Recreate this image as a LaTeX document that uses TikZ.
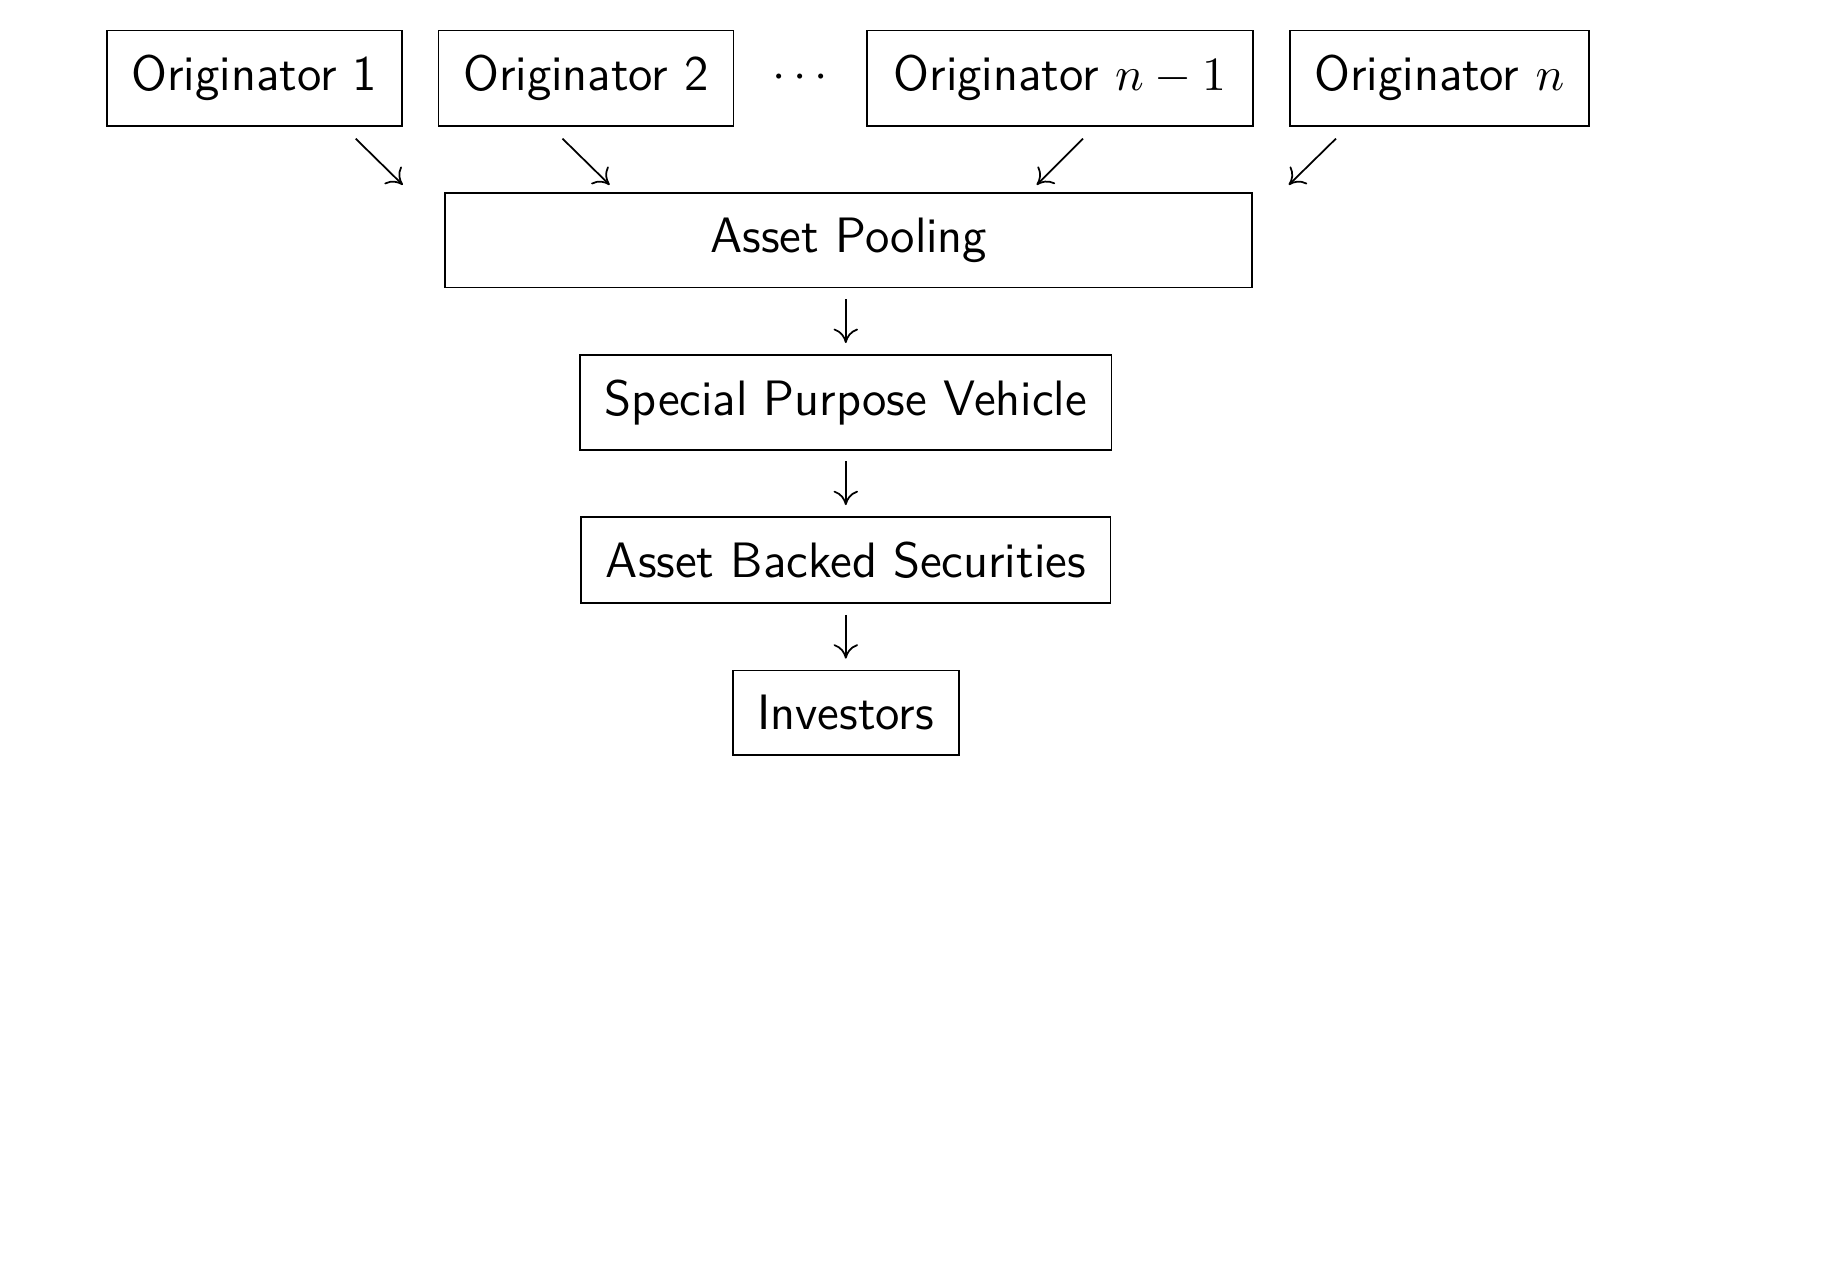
\documentclass[tikz,border=0pt]{standalone}
\usetikzlibrary{arrows.meta,calc,positioning}

\begin{document}
\begin{tikzpicture}[
  node distance = 15pt and 8pt,
  >             = {Computer Modern Rightarrow[length=3.3pt, width=5.6pt]},
  box/.style    = {rectangle, black, draw, text centered, inner xsep=5.65pt, inner ysep=5.7pt, font=\sffamily\fontsize{11.4}{14}\selectfont},
  flow/.style   = {->, black, shorten <=2.5pt, shorten >=2.5pt},
  feed/.style   = {->, black},
  ]
  \useasboundingbox (0,0) rectangle (421.6pt,-293.8pt);
  % originators
  \node[box, anchor=north west] (o1) at (24.3pt,-6.8pt) {Originator 1};
  \node[box, right=of o1] (o2) {Originator 2};
  \node[box, inner xsep=6.2pt, right=30.1pt of o2] (on1) {Originator $n-1$};
  \node[box, right=of on1] (on) {Originator $n$};
  \node[font=\fontsize{11.4}{14}\selectfont] (dots) at ($(o2.east)!0.5!(on1.west)$) {$\cdots$};
  % securitisation chain
  \coordinate (top) at ($(o2.south west)!0.5!(on1.south east)$);
  \node[box, minimum width=185pt, below=15pt of top, xshift=0.7pt] (pool) {Asset Pooling};
  \node[box, below=15pt of top |- pool.south] (spv) {Special Purpose Vehicle};
  \node[box, below=of spv] (abs) {Asset Backed Securities};
  \node[box, below=of abs] (inv) {Investors};
  % arrows
  \draw[feed] ([shift={(-10.8pt,-2.7pt)}]o1.south east) -- ([yshift=-13.3pt]o1.south east);
  \draw[feed] ([shift={(-5.4pt,-2.7pt)}]o2.south) -- ([shift={(5.4pt,-13.3pt)}]o2.south);
  \draw[feed] ([shift={(5.3pt,-2.7pt)}]on1.south) -- ([shift={(-5.3pt,-13.3pt)}]on1.south);
  \draw[feed] ([shift={(10.8pt,-2.7pt)}]on.south west) -- ([yshift=-13.3pt]on.south west);
  \draw[flow] (pool.south -| spv.north) -- (spv.north);
  \draw[flow] (spv) -- (abs);
  \draw[flow] (abs) -- (inv);
\end{tikzpicture}
\end{document}
